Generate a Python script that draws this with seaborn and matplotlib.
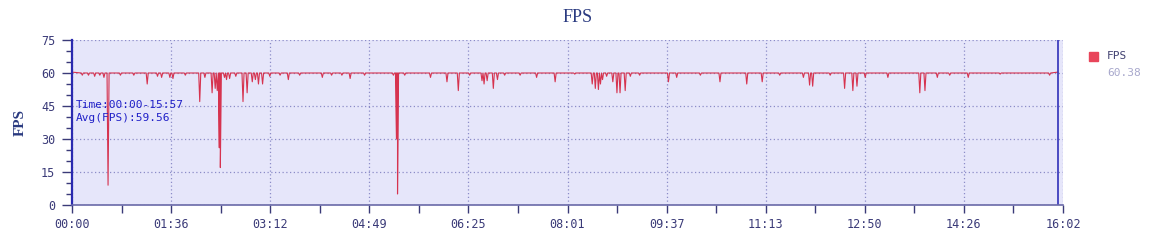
import matplotlib
matplotlib.use("Agg")
import matplotlib.pyplot as plt
import seaborn as sns
import pandas as pd
from matplotlib.ticker import MultipleLocator, FixedLocator

# ---------------- data ----------------
baseline_fps = 60.0
start_time = 0
end_time = 957          # 15:57 (data end)
end_fps = 60.4
dip_times = [10, 16, 22, 27, 31, 35, 47, 60, 73, 83, 87, 95, 98, 110, 124, 129,
             136, 139, 141, 143, 144, 148, 150, 153, 159, 166, 170, 175, 178, 181,
             185, 192, 202, 210, 221, 243, 252, 262, 270, 284, 312, 315, 316, 323,
             348, 364, 375, 386, 398, 400, 403, 409, 413, 420, 435, 451, 469, 488,
             505, 508, 511, 513, 515, 519, 525, 529, 532, 537, 542, 551, 579, 587,
             610, 629, 655, 670, 687, 710, 716, 719, 736, 750, 758, 762, 770, 792,
             823, 828, 840, 852, 870, 901, 949]
dip_values = [59, 59, 58.5, 59, 58, 9, 59, 59, 55, 58.5, 58, 58, 57.5, 59, 47, 58,
              51, 53, 52, 26, 17, 58, 57, 57.5, 58.5, 47, 51, 56, 57, 55,
              55, 58.5, 59, 57, 59, 58, 59, 59, 57.5, 59, 59, 30, 5, 59,
              58, 56, 52, 59, 56.5, 55, 56.5, 53, 57, 59, 59, 58, 56, 59.5,
              55, 53, 52.5, 55, 57, 58.5, 56, 51, 51, 52, 58.5, 59, 56, 58,
              59, 56, 55, 56, 59, 58, 54.5, 54, 59, 53, 52, 54, 58, 58,
              51, 52, 58, 59, 58, 59.5, 59]
x_tick_pos = [0, 96.2, 192.4, 288.6, 384.8, 481, 577.2, 673.4, 769.6, 865.8, 962]
x_tick_labels = ["00:00", "01:36", "03:12", "04:49", "06:25", "08:01", "09:37",
                 "11:13", "12:50", "14:26", "16:02"]
y_ticks = [0, 15, 30, 45, 60, 75]
avg_fps = 59.56
last_fps = 60.38
time_range = "00:00-15:57"

# ---------------- build series ----------------
rows = [(start_time, baseline_fps + 0.4)]
for t, v in zip(dip_times, dip_values):
    rows.append((t - 1, baseline_fps))
    rows.append((t, v))
    rows.append((t + 1, baseline_fps))
rows.append((end_time, end_fps))
df = pd.DataFrame(rows, columns=["time", "fps"]).sort_values("time", kind="stable")

# ---------------- figure ----------------
sns.set_style("white")
plt.rcParams["font.family"] = ["DejaVu Sans Mono", "DejaVu Sans"]

fig = plt.figure(figsize=(11.56, 2.40), dpi=100)
ax = fig.add_axes([72 / 1156, 1 - 205 / 240, 991 / 1156, 165 / 240])
ax.set_facecolor("#e6e6fa")

line_color = "#d6334f"
sns.lineplot(data=df, x="time", y="fps", ax=ax, estimator=None, sort=False,
             color=line_color, linewidth=0.8)

ax.set_xlim(0, 962)
ax.set_ylim(0, 75)

ax.set_xticks(x_tick_pos)
ax.set_xticklabels(x_tick_labels)
ax.xaxis.set_minor_locator(FixedLocator([p + 48.1 for p in x_tick_pos[:-1]]))
ax.set_yticks(y_ticks)
ax.yaxis.set_minor_locator(MultipleLocator(5))

tick_col = "#3a3a78"
ax.tick_params(axis="both", which="both", bottom=True, left=True, top=False,
               right=False)
ax.tick_params(axis="x", which="both", labelsize=8.5, colors=tick_col,
               direction="out", length=6, width=1, pad=3)
ax.tick_params(axis="y", which="major", labelsize=8.5, colors=tick_col,
               direction="out", length=7, width=1, pad=5)
ax.tick_params(axis="y", which="minor", direction="out", length=4, width=1,
               colors=tick_col)

ax.grid(True, which="major", linestyle=(0, (1, 2)), color="#8c8cc8", linewidth=0.9)
ax.set_axisbelow(True)

for s in ["top", "right"]:
    ax.spines[s].set_visible(False)
ax.spines["left"].set_color("#2a2ab0")
ax.spines["left"].set_linewidth(1.6)
ax.spines["bottom"].set_color("#6a6aa8")
ax.spines["bottom"].set_linewidth(1.2)

# end-of-data marker line
ax.axvline(end_time, color="#3030b8", linewidth=1.2)

ax.set_xlabel("")
ax.set_ylabel("FPS", family="Liberation Serif", fontsize=11, fontweight="bold",
              color="#2a3a80", labelpad=10)

ax.text(0.004, 0.605, f"Time:{time_range}", transform=ax.transAxes,
        fontsize=8, color="#2020c8", va="center", ha="left")
ax.text(0.004, 0.525, f"Avg(FPS):{avg_fps:.2f}", transform=ax.transAxes,
        fontsize=8, color="#2020c8", va="center", ha="left")

fig.text(0.5, 1 - 18 / 240, "FPS", ha="center", va="center",
         family="Liberation Serif", fontsize=13, color="#2a3a80")

# legend
fig.patches.append(plt.Rectangle((1089 / 1156, 1 - 61 / 240), 9 / 1156, 9 / 240,
                                 transform=fig.transFigure, color="#e8455a"))
fig.text(1107 / 1156, 1 - 56 / 240, "FPS", ha="left", va="center", fontsize=8,
         color="#404070")
fig.text(1107 / 1156, 1 - 73 / 240, f"{last_fps:.2f}", ha="left", va="center",
         fontsize=8, color="#a8a8cc")

fig.savefig("out.png", dpi=100)
